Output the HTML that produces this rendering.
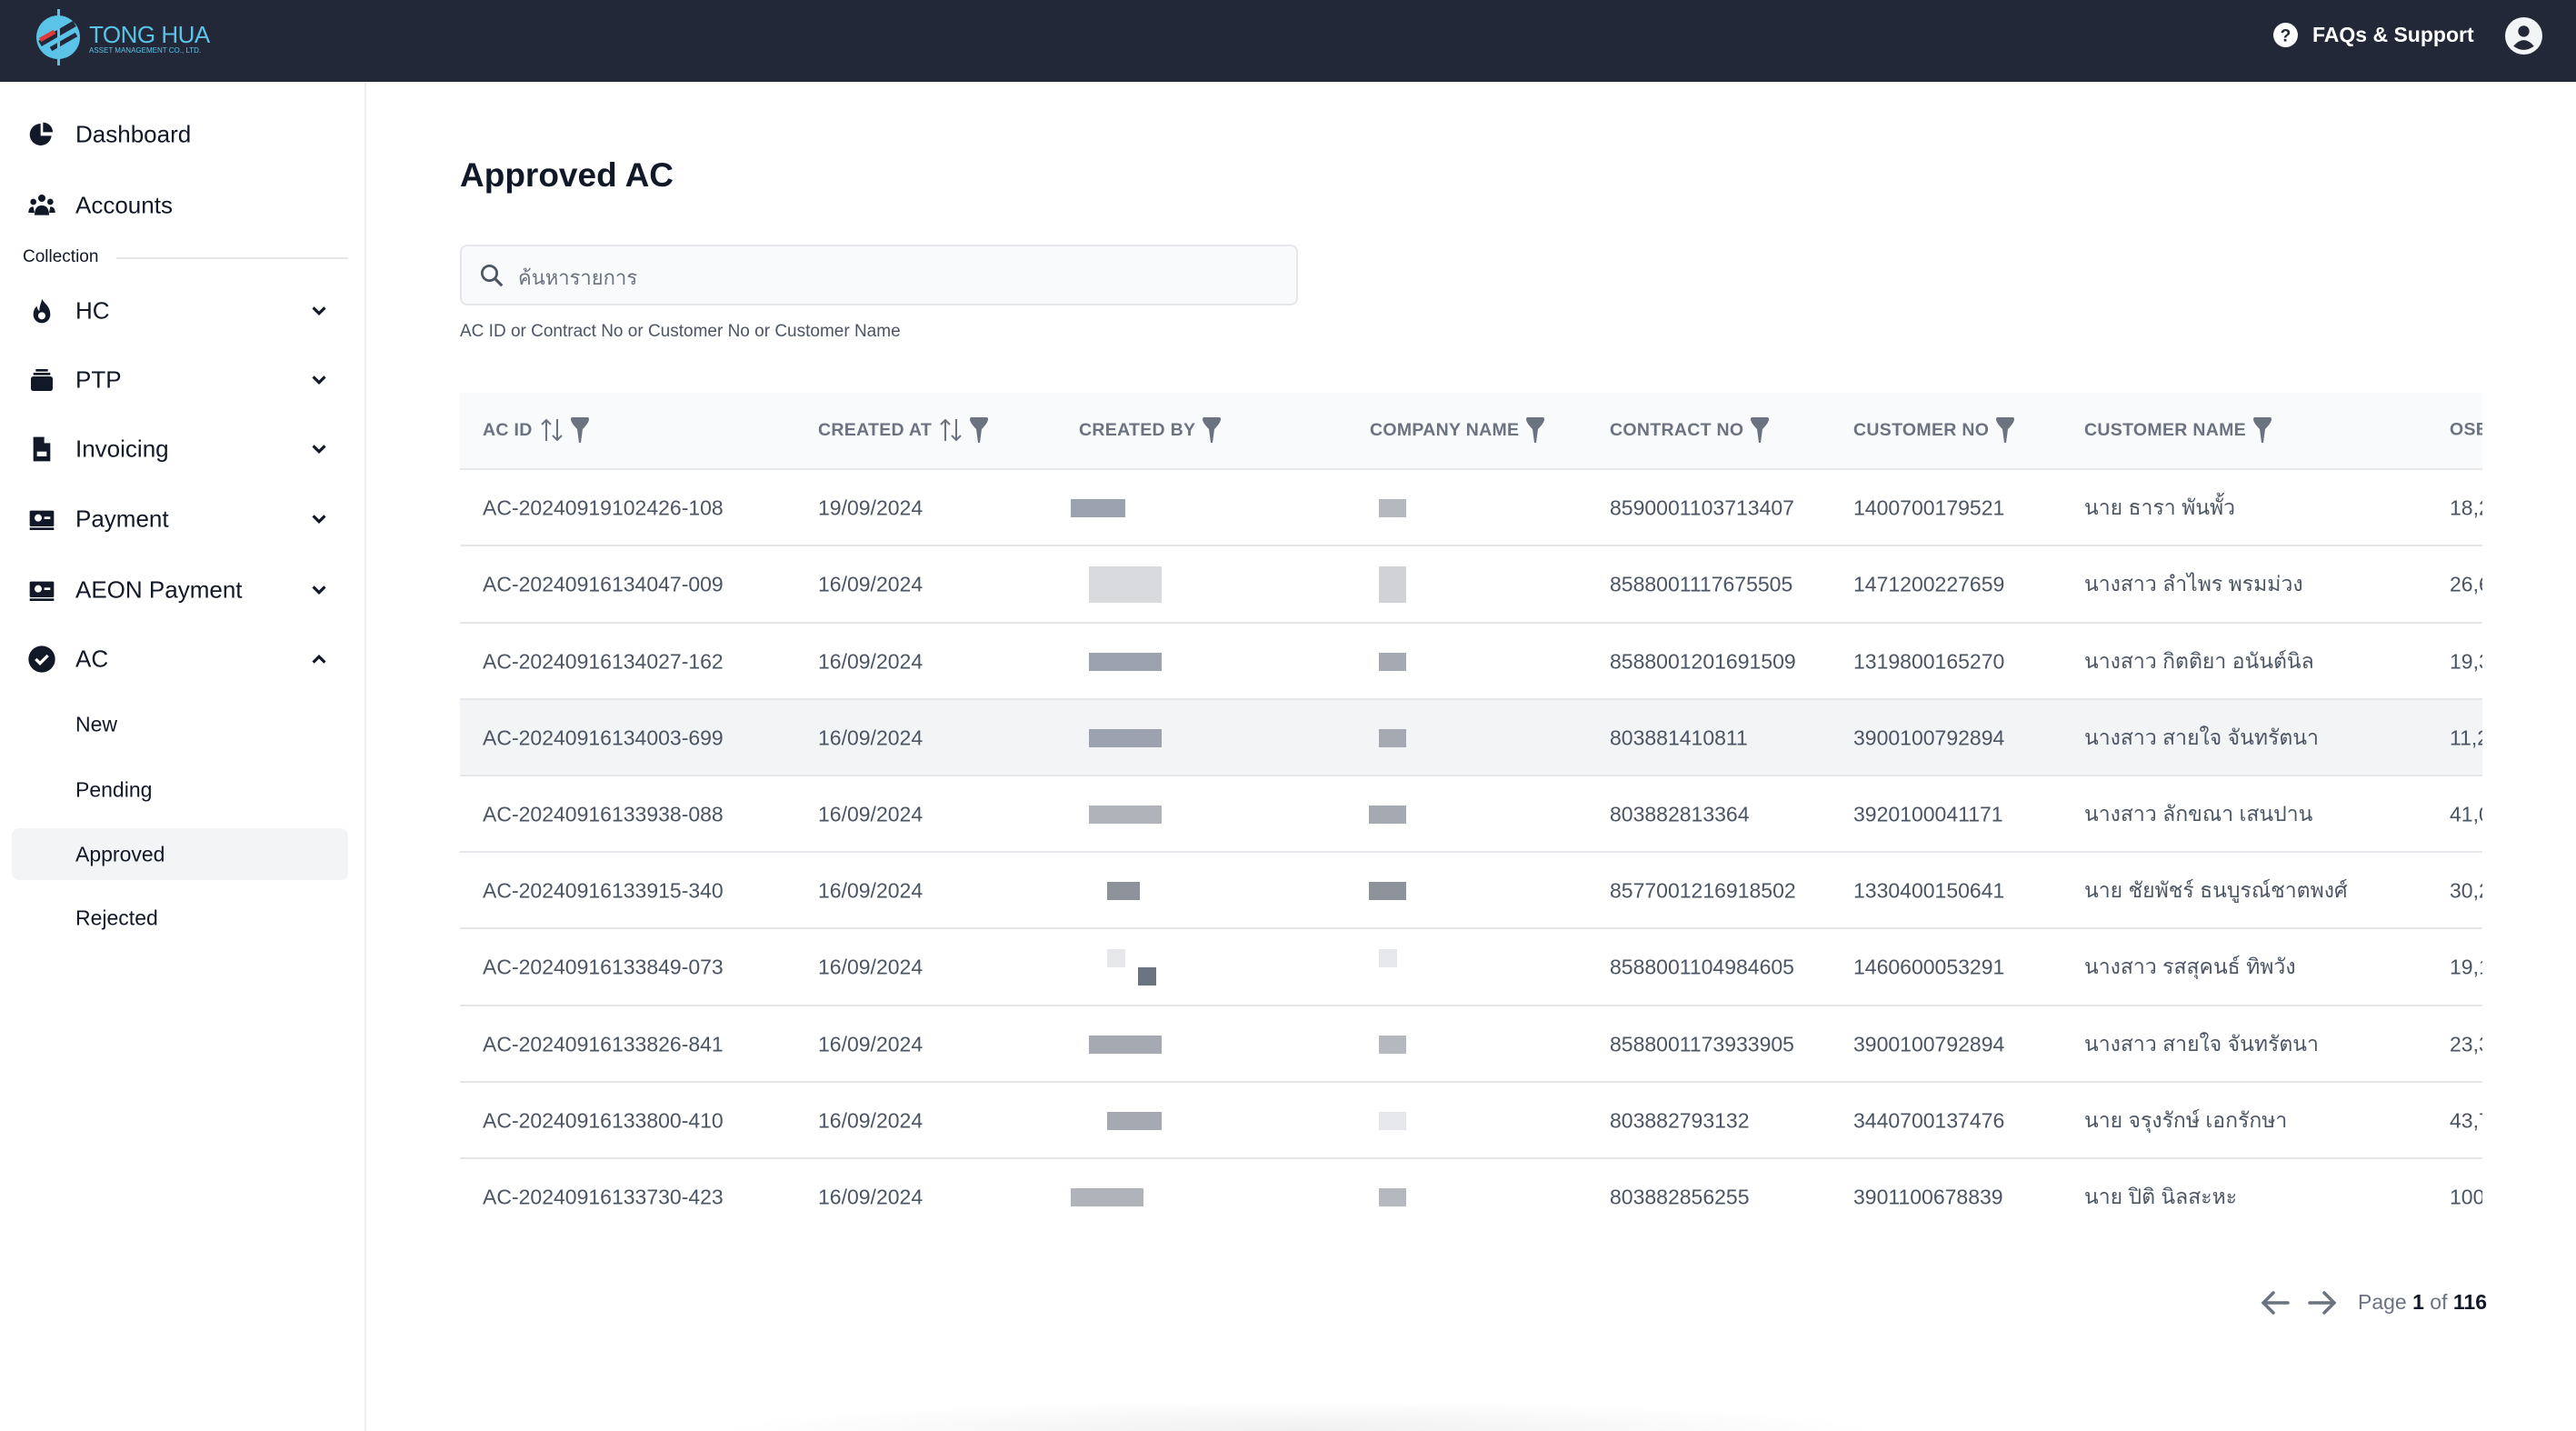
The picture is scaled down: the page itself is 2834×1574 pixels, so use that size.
<!DOCTYPE html>
<html><head><meta charset="utf-8">
<style>
*{box-sizing:border-box;margin:0;padding:0}
body{width:2834px;height:1574px;overflow:hidden;background:#fff;font-family:"Liberation Sans","DejaVu Sans",sans-serif;color:#111827;position:relative}
.top{position:absolute;left:0;top:0;width:2834px;height:90px;background:#222837}
.side{position:absolute;left:0;top:90px;width:403px;height:1484px;border-right:2px solid #eef0f3;background:#fff}
.abs{position:absolute;white-space:nowrap}
.nav{position:absolute;left:83px;font-size:26px;color:#111827;transform:translateY(-50%)}
.ico{position:absolute;left:30px;width:32px;height:32px;transform:translateY(-50%)}
.chev{position:absolute;left:340px;width:22px;height:22px;transform:translateY(-50%)}
.sub{position:absolute;left:83px;font-size:23px;color:#111827;transform:translateY(-50%)}
.th{position:absolute;top:473px;transform:translateY(-50%);font-size:19.5px;font-weight:bold;color:#6b7280;letter-spacing:0.3px;display:flex;align-items:center;gap:8px}
.th svg{flex:none}
.row{position:absolute;left:506px;width:2225px;height:84px;border-top:2px solid #e5e7eb}
.c{position:absolute;top:42px;transform:translateY(-50%);font-size:23px;color:#4b5563;white-space:nowrap}
.b{position:absolute;height:20px}
</style></head><body>
<div class="top">
 <svg class="abs" style="left:30px;top:8px" width="70" height="66" viewBox="0 0 70 66">
  <circle cx="34" cy="33" r="24" fill="#5bc3e8"/>
  <path d="M14 40 L52 18" stroke="#222837" stroke-width="7"/>
  <path d="M14 36 L30 27" stroke="#e03a3a" stroke-width="5"/>
  <path d="M26 46 L54 30" stroke="#222837" stroke-width="5"/>
  <rect x="33" y="2" width="3" height="62" fill="#5bc3e8"/>
 </svg>
 <div class="abs" style="left:98px;top:23px;font-size:26px;color:#5bc3e8;letter-spacing:-0.5px">TONG HUA</div>
 <div class="abs" style="left:98px;top:51px;font-size:8px;color:#5bc3e8">ASSET MANAGEMENT CO., LTD.</div>
 <svg class="abs" style="left:2501px;top:25px" width="27" height="27" viewBox="0 0 24 24"><circle cx="12" cy="12" r="12" fill="#fff"/><text x="12" y="18" text-anchor="middle" font-size="17" font-weight="bold" fill="#222837" font-family="Liberation Sans">?</text></svg>
 <div class="abs" style="left:2544px;top:25px;font-size:23px;color:#fff;font-weight:bold">FAQs &amp; Support</div>
 <svg class="abs" style="left:2756px;top:19px" width="41" height="41" viewBox="0 0 40 40"><circle cx="20" cy="20" r="20" fill="#f3f4f6"/><circle cx="20" cy="15" r="6" fill="#222837"/><path d="M9 31 Q20 18 31 31 Q20 39 9 31Z" fill="#222837"/></svg>
</div>

<div class="side">
 <div style="position:absolute;left:0;top:-90px;width:403px;height:1484px">
 <svg class="ico" style="top:148px" viewBox="0 0 24 24"><path d="M11 3a9 9 0 1 0 9 10h-9z" fill="#111827"/><path d="M13 2v8h8a8 8 0 0 0-8-8z" fill="#111827"/></svg>
 <div class="nav" style="top:148px">Dashboard</div>
 <svg class="ico" style="top:226px" viewBox="0 0 24 24"><circle cx="12" cy="6" r="3" fill="#111827"/><circle cx="5" cy="9" r="2.5" fill="#111827"/><circle cx="19" cy="9" r="2.5" fill="#111827"/><path d="M6 20q0-8 6-8t6 8z" fill="#111827"/><path d="M1 18q0-5 4-5l1 5z M23 18q0-5-4-5l-1 5z" fill="#111827"/></svg>
 <div class="nav" style="top:226px">Accounts</div>
 <div class="abs" style="left:25px;top:272px;font-size:19px;color:#111827">Collection</div>
 <div class="abs" style="left:128px;top:283px;width:255px;height:2px;background:#e5e7eb"></div>
 <svg class="ico" style="top:342px" viewBox="0 0 24 24"><path d="M12 2c2 4 7 6 7 13a7 7 0 0 1-14 0c0-4 2-6 3-7 0 3 2 4 2 4 0-5 2-7 2-10z" fill="#111827"/><circle cx="12" cy="16" r="3" fill="#fff"/></svg>
 <div class="nav" style="top:342px">HC</div>
 <svg class="ico" style="top:418px" viewBox="0 0 24 24"><rect x="3" y="9" width="18" height="12" rx="2" fill="#111827"/><rect x="5" y="6" width="14" height="2" fill="#111827"/><rect x="7" y="3" width="10" height="2" fill="#111827"/></svg>
 <div class="nav" style="top:418px">PTP</div>
 <svg class="ico" style="top:494px" viewBox="0 0 24 24"><path d="M5 2h9l5 5v15H5z" fill="#111827"/><path d="M14 2v5h5" fill="#fff"/><rect x="8" y="14" width="8" height="4" fill="#fff"/></svg>
 <div class="nav" style="top:494px">Invoicing</div>
 <svg class="ico" style="top:571px" viewBox="0 0 24 24"><rect x="2" y="5" width="20" height="13" rx="1" fill="#111827"/><circle cx="9" cy="11" r="3" fill="#fff"/><rect x="14" y="10" width="5" height="2" fill="#fff"/><rect x="2" y="19" width="20" height="2" fill="#111827"/></svg>
 <div class="nav" style="top:571px">Payment</div>
 <svg class="ico" style="top:649px" viewBox="0 0 24 24"><rect x="2" y="5" width="20" height="13" rx="1" fill="#111827"/><circle cx="9" cy="11" r="3" fill="#fff"/><rect x="14" y="10" width="5" height="2" fill="#fff"/><rect x="2" y="19" width="20" height="2" fill="#111827"/></svg>
 <div class="nav" style="top:649px">AEON Payment</div>
 <svg class="ico" style="top:725px" viewBox="0 0 24 24"><circle cx="12" cy="12" r="11" fill="#111827"/><path d="M7 12l3.5 3.5L17 9" stroke="#fff" stroke-width="2.5" fill="none"/></svg>
 <div class="nav" style="top:725px">AC</div>
 <svg class="chev" style="top:342px" viewBox="0 0 24 24"><path d="M5 8l7 7 7-7" stroke="#111827" stroke-width="3.5" fill="none"/></svg>
 <svg class="chev" style="top:418px" viewBox="0 0 24 24"><path d="M5 8l7 7 7-7" stroke="#111827" stroke-width="3.5" fill="none"/></svg>
 <svg class="chev" style="top:494px" viewBox="0 0 24 24"><path d="M5 8l7 7 7-7" stroke="#111827" stroke-width="3.5" fill="none"/></svg>
 <svg class="chev" style="top:571px" viewBox="0 0 24 24"><path d="M5 8l7 7 7-7" stroke="#111827" stroke-width="3.5" fill="none"/></svg>
 <svg class="chev" style="top:649px" viewBox="0 0 24 24"><path d="M5 8l7 7 7-7" stroke="#111827" stroke-width="3.5" fill="none"/></svg>
 <svg class="chev" style="top:725px" viewBox="0 0 24 24"><path d="M5 16l7-7 7 7" stroke="#111827" stroke-width="3.5" fill="none"/></svg>
 <div class="sub" style="top:797px">New</div>
 <div class="sub" style="top:869px">Pending</div>
 <div class="abs" style="left:13px;top:911px;width:370px;height:57px;background:#f3f4f6;border-radius:8px"></div>
 <div class="sub" style="top:940px">Approved</div>
 <div class="sub" style="top:1010px">Rejected</div>
 </div>
</div>

<div class="abs" style="left:506px;top:172px;font-size:37px;font-weight:bold;color:#111827">Approved AC</div>
<div class="abs" style="left:506px;top:269px;width:922px;height:67px;border:2px solid #e5e7eb;border-radius:8px;background:#f9fafb"></div>
<svg class="abs" style="left:526px;top:288px" width="30" height="30" viewBox="0 0 24 24"><circle cx="10" cy="10" r="6.5" stroke="#4b5563" stroke-width="2.2" fill="none"/><path d="M15 15l6 6" stroke="#4b5563" stroke-width="2.5"/></svg>
<div class="abs" style="left:570px;top:288px;font-size:22px;color:#6b7280">ค้นหารายการ</div>
<div class="abs" style="left:506px;top:354px;font-size:19px;color:#4b5563">AC ID or Contract No or Customer No or Customer Name</div>

<div class="abs" style="left:506px;top:432px;width:2225px;height:84px;background:#f9fafb"></div>
<div class="abs" style="left:506px;top:768px;width:2225px;height:84px;background:#f3f4f6"></div>

<svg width="0" height="0" style="position:absolute">
 <defs>
  <symbol id="fun" viewBox="0 0 20 28"><path d="M0 2 Q0 0 2 0 H18 Q20 0 20 2 Q20 6 13 13 L11 28 L9 28 L7 13 Q0 6 0 2Z" fill="#6b7280"/></symbol>
  <symbol id="srt" viewBox="0 0 26 28"><path d="M7 26V3M2 8l5-5 5 5M19 2v23M14 20l5 5 5-5" stroke="#6b7280" stroke-width="2" fill="none"/></symbol>
 </defs>
</svg>
<div class="th" style="left:531px">AC ID <svg width="26" height="28"><use href="#srt"/></svg><svg width="20" height="28"><use href="#fun"/></svg></div>
<div class="th" style="left:900px">CREATED AT <svg width="26" height="28"><use href="#srt"/></svg><svg width="20" height="28"><use href="#fun"/></svg></div>
<div class="th" style="left:1187px">CREATED BY <svg width="20" height="28"><use href="#fun"/></svg></div>
<div class="th" style="left:1507px">COMPANY NAME <svg width="20" height="28"><use href="#fun"/></svg></div>
<div class="th" style="left:1771px">CONTRACT NO <svg width="20" height="28"><use href="#fun"/></svg></div>
<div class="th" style="left:2039px">CUSTOMER NO <svg width="20" height="28"><use href="#fun"/></svg></div>
<div class="th" style="left:2293px">CUSTOMER NAME <svg width="20" height="28"><use href="#fun"/></svg></div>
<div class="th" style="left:2695px;width:36px;overflow:hidden">OSB</div>

<div class="row" style="top:515px"><span class="c" style="left:25px">AC-20240919102426-108</span><span class="c" style="left:394px">19/09/2024</span><span class="b" style="left:672px;top:32px;width:60px;background:#9ca3af"></span><span class="b" style="left:1011px;top:32px;width:30px;background:#b5b8bf"></span><span class="c" style="left:1265px">8590001103713407</span><span class="c" style="left:1533px">1400700179521</span><span class="c" style="left:1787px">นาย ธารา พันพั้ว</span><span class="c" style="left:2189px;width:36px;overflow:hidden">18,2</span></div>
<div class="row" style="top:599px"><span class="c" style="left:25px">AC-20240916134047-009</span><span class="c" style="left:394px">16/09/2024</span><span class="b" style="left:692px;top:22px;width:80px;height:40px;background:#d8dade"></span><span class="b" style="left:1011px;top:22px;width:30px;height:40px;background:#d0d2d6"></span><span class="c" style="left:1265px">8588001117675505</span><span class="c" style="left:1533px">1471200227659</span><span class="c" style="left:1787px">นางสาว ลำไพร พรมม่วง</span><span class="c" style="left:2189px;width:36px;overflow:hidden">26,6</span></div>
<div class="row" style="top:684px"><span class="c" style="left:25px">AC-20240916134027-162</span><span class="c" style="left:394px">16/09/2024</span><span class="b" style="left:692px;top:32px;width:80px;background:#9ca3af"></span><span class="b" style="left:1011px;top:32px;width:30px;background:#a5a9b1"></span><span class="c" style="left:1265px">8588001201691509</span><span class="c" style="left:1533px">1319800165270</span><span class="c" style="left:1787px">นางสาว กิตติยา อนันต์นิล</span><span class="c" style="left:2189px;width:36px;overflow:hidden">19,3</span></div>
<div class="row" style="top:768px"><span class="c" style="left:25px">AC-20240916134003-699</span><span class="c" style="left:394px">16/09/2024</span><span class="b" style="left:692px;top:32px;width:80px;background:#9ca3af"></span><span class="b" style="left:1011px;top:32px;width:30px;background:#a5a9b1"></span><span class="c" style="left:1265px">803881410811</span><span class="c" style="left:1533px">3900100792894</span><span class="c" style="left:1787px">นางสาว สายใจ จันทรัตนา</span><span class="c" style="left:2189px;width:36px;overflow:hidden">11,2</span></div>
<div class="row" style="top:852px"><span class="c" style="left:25px">AC-20240916133938-088</span><span class="c" style="left:394px">16/09/2024</span><span class="b" style="left:692px;top:32px;width:80px;background:#b0b3ba"></span><span class="b" style="left:1000px;top:32px;width:41px;background:#a5a9b1"></span><span class="c" style="left:1265px">803882813364</span><span class="c" style="left:1533px">3920100041171</span><span class="c" style="left:1787px">นางสาว ลักขณา เสนปาน</span><span class="c" style="left:2189px;width:36px;overflow:hidden">41,0</span></div>
<div class="row" style="top:936px"><span class="c" style="left:25px">AC-20240916133915-340</span><span class="c" style="left:394px">16/09/2024</span><span class="b" style="left:712px;top:32px;width:36px;background:#8e929b"></span><span class="b" style="left:1000px;top:32px;width:41px;background:#8e929b"></span><span class="c" style="left:1265px">8577001216918502</span><span class="c" style="left:1533px">1330400150641</span><span class="c" style="left:1787px">นาย ชัยพัชร์ ธนบูรณ์ชาตพงศ์</span><span class="c" style="left:2189px;width:36px;overflow:hidden">30,2</span></div>
<div class="row" style="top:1020px"><span class="c" style="left:25px">AC-20240916133849-073</span><span class="c" style="left:394px">16/09/2024</span><span class="b" style="left:712px;top:22px;width:20px;background:#e5e7eb"></span><span class="b" style="left:746px;top:42px;width:20px;background:#6b7280"></span><span class="b" style="left:1011px;top:22px;width:20px;background:#e5e7eb"></span><span class="c" style="left:1265px">8588001104984605</span><span class="c" style="left:1533px">1460600053291</span><span class="c" style="left:1787px">นางสาว รสสุคนธ์ ทิพวัง</span><span class="c" style="left:2189px;width:36px;overflow:hidden">19,1</span></div>
<div class="row" style="top:1105px"><span class="c" style="left:25px">AC-20240916133826-841</span><span class="c" style="left:394px">16/09/2024</span><span class="b" style="left:692px;top:32px;width:80px;background:#a5a9b1"></span><span class="b" style="left:1011px;top:32px;width:30px;background:#b5b8bf"></span><span class="c" style="left:1265px">8588001173933905</span><span class="c" style="left:1533px">3900100792894</span><span class="c" style="left:1787px">นางสาว สายใจ จันทรัตนา</span><span class="c" style="left:2189px;width:36px;overflow:hidden">23,3</span></div>
<div class="row" style="top:1189px"><span class="c" style="left:25px">AC-20240916133800-410</span><span class="c" style="left:394px">16/09/2024</span><span class="b" style="left:712px;top:32px;width:60px;background:#a5a9b1"></span><span class="b" style="left:1011px;top:32px;width:30px;background:#e5e7eb"></span><span class="c" style="left:1265px">803882793132</span><span class="c" style="left:1533px">3440700137476</span><span class="c" style="left:1787px">นาย จรุงรักษ์ เอกรักษา</span><span class="c" style="left:2189px;width:36px;overflow:hidden">43,7</span></div>
<div class="row" style="top:1273px;height:85px"><span class="c" style="left:25px">AC-20240916133730-423</span><span class="c" style="left:394px">16/09/2024</span><span class="b" style="left:672px;top:32px;width:80px;background:#b0b3ba"></span><span class="b" style="left:1011px;top:32px;width:30px;background:#b5b8bf"></span><span class="c" style="left:1265px">803882856255</span><span class="c" style="left:1533px">3901100678839</span><span class="c" style="left:1787px">นาย ปิติ นิลสะหะ</span><span class="c" style="left:2189px;width:36px;overflow:hidden">100</span></div>

<svg class="abs" style="left:2486px;top:1418px" width="34" height="30" viewBox="0 0 34 30"><path d="M31 15H4M15 4L4 15l11 11" stroke="#6b7280" stroke-width="3.5" fill="none" stroke-linecap="round"/></svg>
<svg class="abs" style="left:2538px;top:1418px" width="34" height="30" viewBox="0 0 34 30"><path d="M3 15h27M19 4l11 11-11 11" stroke="#6b7280" stroke-width="3.5" fill="none" stroke-linecap="round"/></svg>
<div class="abs" style="left:2594px;top:1419px;font-size:23px;color:#6b7280">Page <b style="color:#111827">1</b> of <b style="color:#111827">116</b></div>
<div class="abs" style="left:780px;top:1540px;width:1300px;height:34px;background:radial-gradient(ellipse at 50% 100%,rgba(0,0,0,0.06),rgba(0,0,0,0) 70%)"></div>
</body></html>
